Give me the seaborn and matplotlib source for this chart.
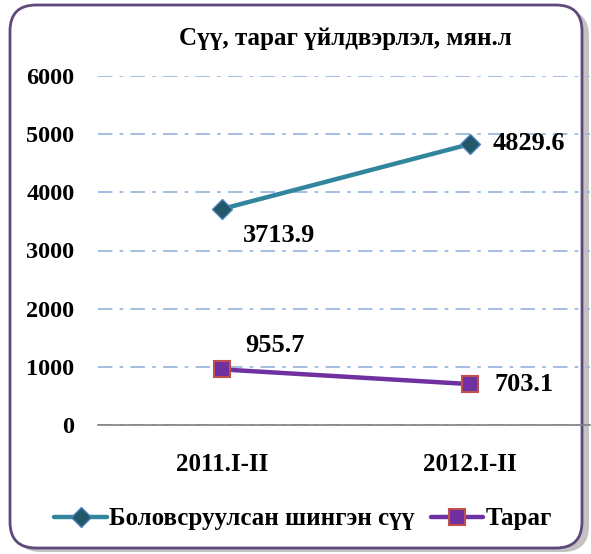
import pandas as pd
import matplotlib.pyplot as plt
import seaborn as sns
from matplotlib.patches import FancyBboxPatch
from matplotlib.lines import Line2D
from matplotlib.transforms import IdentityTransform

# Data
periods = ['2011.I-II', '2012.I-II']
milk = [3713.9, 4829.6]
yogurt = [955.7, 703.1]
series_names = ['Боловсруулсан шингэн сүү', 'Тараг']
title = 'Сүү, тараг үйлдвэрлэл, мян.л'

sns.set_style('white')
plt.rcParams['font.family'] = ['Liberation Serif', 'DejaVu Serif']
plt.rcParams['font.weight'] = 'bold'
plt.rcParams['text.color'] = 'black'
plt.rcParams['xtick.color'] = 'black'
plt.rcParams['ytick.color'] = 'black'

fig = plt.figure(figsize=(5.91, 5.54), dpi=100)

# frame with shadow
shadow = FancyBboxPatch((15, 2), 574, 542, boxstyle='round,pad=0,rounding_size=26',
                        transform=IdentityTransform(), facecolor='#9a9a9a', edgecolor='none',
                        alpha=0.6, zorder=-2)
frame = FancyBboxPatch((10, 6), 572, 543, boxstyle='round,pad=0,rounding_size=26',
                       transform=IdentityTransform(), facecolor='white', edgecolor='#5f497a',
                       linewidth=2, zorder=-1)
fig.patches.extend([shadow, frame])

ax = fig.add_axes([98 / 591, 1 - 425 / 554, 492 / 591, (425 - 76) / 554])
ax.set_facecolor('none')

df = pd.DataFrame({'period': periods, 'milk': milk, 'yogurt': yogurt})

sns.lineplot(data=df, x='period', y='milk', ax=ax, color='#31859c', linewidth=3.2,
             marker='D', markersize=10, markerfacecolor='#215968', markeredgecolor='#4f81bd',
             markeredgewidth=1, zorder=3)
sns.lineplot(data=df, x='period', y='yogurt', ax=ax, color='#7030a0', linewidth=3.2,
             marker='s', markersize=11, markerfacecolor='#7030a0', markeredgecolor='#c0504d',
             markeredgewidth=1.5, zorder=3)

ax.set_ylim(0, 6000)
ax.set_xlim(-0.5, 1.5 - 4 / 248)
ax.set_yticks(range(0, 6001, 1000))
ax.yaxis.grid(True, color='#9db8de', linestyle=(0, (8, 4, 2, 4)), linewidth=1.3)
ax.xaxis.grid(False)
for s in ['top', 'right', 'left']:
    ax.spines[s].set_visible(False)
ax.spines['bottom'].set_color('#808080')
ax.spines['bottom'].set_linewidth(1.2)
ax.tick_params(axis='y', length=0, pad=17, labelsize=17.5)
ax.tick_params(axis='x', length=0, pad=20, labelsize=18)
for lbl in ax.get_xticklabels() + ax.get_yticklabels():
    lbl.set_fontweight('bold')
ax.set_xlabel('')
ax.set_ylabel('')
ax.set_axisbelow(True)

# data labels
offsets = [((21, -27), (23, 1)), ((23, 24), (25, 0))]
for vals, offs in zip([milk, yogurt], offsets):
    for i, (v, o) in enumerate(zip(vals, offs)):
        ax.annotate(f'{v:.1f}', (i, v), xytext=o, textcoords='offset pixels',
                    ha='left', va='center', fontsize=19, fontweight='bold', zorder=5)

fig.text(345 / 591, 1 - 38 / 554, title, ha='center', va='center', fontsize=18, fontweight='bold')

handles = [
    Line2D([], [], color='#31859c', linewidth=3.2, marker='D', markersize=10,
           markerfacecolor='#215968', markeredgecolor='#4f81bd'),
    Line2D([], [], color='#7030a0', linewidth=3.2, marker='s', markersize=11,
           markerfacecolor='#7030a0', markeredgecolor='#c0504d', markeredgewidth=1.5),
]
fig.legend(handles, series_names, loc='center', bbox_to_anchor=(303 / 591, 1 - 519 / 554),
           ncol=2, frameon=False, handlelength=2.1, handletextpad=0.08, columnspacing=0.66,
           borderaxespad=0, prop={'size': 18, 'weight': 'bold'})

fig.savefig('out.png', dpi=100)
